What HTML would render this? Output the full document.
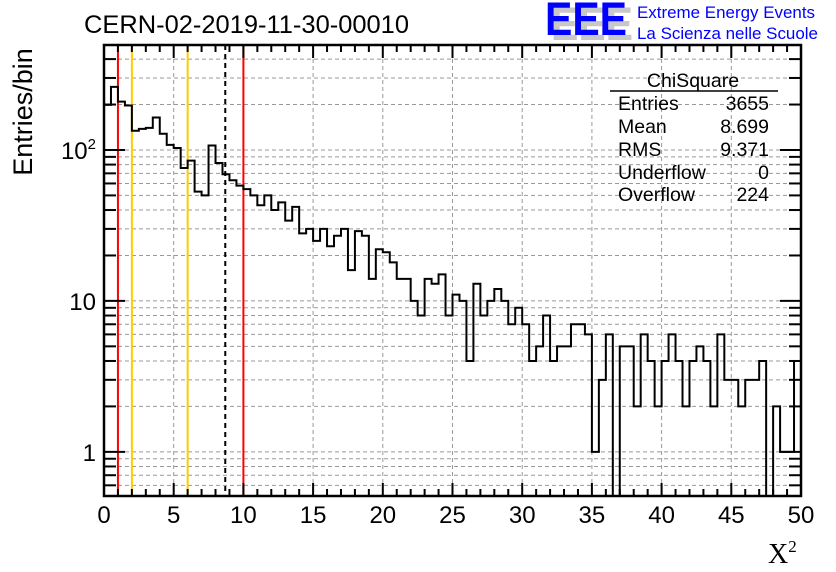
<!DOCTYPE html>
<html><head><meta charset="utf-8">
<style>
html,body{margin:0;padding:0;background:#fff;}
svg{display:block;font-family:"Liberation Sans",sans-serif;}
</style></head>
<body>
<svg id="chart" width="836" height="572" viewBox="0 0 836 572" xmlns="http://www.w3.org/2000/svg">
  <rect width="836" height="572" fill="#fff"/>
  <g id="grid"></g>
  <g id="refs"></g>
  <g id="hist"></g>
  <g id="axes"></g>
  <text x="84" y="33" font-size="25" textLength="325" lengthAdjust="spacingAndGlyphs">CERN-02-2019-11-30-00010</text>
  <text transform="translate(32,112) rotate(-90)" text-anchor="middle" font-size="27">Entries/bin</text>
  <text x="768" y="563" font-size="28" font-family="Liberation Serif, serif">X<tspan font-size="17" dy="-11">2</tspan></text>
  <g>
    <text x="551" y="40" font-size="47" font-weight="bold" fill="#c8c8c8" textLength="82" lengthAdjust="spacingAndGlyphs">EEE</text>
    <text x="545" y="35" font-size="47" font-weight="bold" fill="#0000ff" textLength="82" lengthAdjust="spacingAndGlyphs">EEE</text>
    <text x="637" y="18" font-size="17" fill="#0000ff" textLength="178" lengthAdjust="spacingAndGlyphs">Extreme Energy Events</text>
    <text x="637" y="39" font-size="17" fill="#0000ff" textLength="181" lengthAdjust="spacingAndGlyphs">La Scienza nelle Scuole</text>
  </g>
  <g font-size="19.5">
    <text x="693" y="87" text-anchor="middle">ChiSquare</text>
    <line x1="610" y1="91" x2="778" y2="91" stroke="#000" stroke-width="1.5"/>
    <text x="618" y="110">Entries</text><text x="769" y="110" text-anchor="end">3655</text>
    <text x="618" y="133">Mean</text><text x="769" y="133" text-anchor="end">8.699</text>
    <text x="618" y="156">RMS</text><text x="769" y="156" text-anchor="end">9.371</text>
    <text x="618" y="179">Underflow</text><text x="769" y="179" text-anchor="end">0</text>
    <text x="618" y="201">Overflow</text><text x="769" y="201" text-anchor="end">224</text>
  </g>
</svg>
<script>
const binWidth = 0.5;
const binCounts = [199,262,209,197,134,138,140,164,128,108,103,76,85,53,50,107,82,69,63,58,
  55,50,43,50,40,45,34,42,28,30,25,30,23,27,30,16,29,27,14,22,
  21,18,14,14,10,8,14,13,15,8,11,10,4,13,8,10,12,10,7,9,
  7,4,5,8,4,5,5,7,7,6,1,3,6,0,5,5,2,6,4,2,
  4,6,4,2,4,5,4,2,6,3,3,2,3,3,4,0,2,1,1,4];
const xTickLabels = ["0","5","10","15","20","25","30","35","40","45","50"];
const xTickValues = [0,5,10,15,20,25,30,35,40,45,50];
const yMajorValues = [1,10,100];
const refRed = [1,10];
const refOrange = [2,6];
const refMean = [8.699];

const NS="http://www.w3.org/2000/svg";
const L=104,R=801,T=45,B=496;
const xMin=0,xMax=50;
const yLogMin=Math.log10(0.5098),yLogMax=Math.log10(496);
function X(v){return L+(v-xMin)/(xMax-xMin)*(R-L);}
function Y(v){if(v<=0)return B+2;const y=B-(Math.log10(v)-yLogMin)/(yLogMax-yLogMin)*(B-T);return Math.min(y,B+2);}
function mk(tag,attrs,parent){const e=document.createElementNS(NS,tag);for(const k in attrs)e.setAttribute(k,attrs[k]);parent.appendChild(e);return e;}

const grid=document.getElementById('grid');
const axes=document.getElementById('axes');
const refs=document.getElementById('refs');
const hist=document.getElementById('hist');

const yTicks=[];
for(const d of [0.1,1,10,100]){for(let m=1;m<=9;m++){const v=m*d;if(v>=0.51&&v<=496)yTicks.push(v);}}
for(const v of yTicks){
  const y=Y(v);
  const g=mk('line',{x1:L,x2:R,y1:y,y2:y,stroke:'#999','stroke-dasharray':'4,3','stroke-width':1},grid);
  
  
  const major=yMajorValues.includes(v);
  const len=major?21:12;
  const t1=mk('line',{x1:L,x2:L+len,y1:y,y2:y,stroke:'#000','stroke-width':2},axes);
  
  
  const t2=mk('line',{x1:R,x2:R-len,y1:y,y2:y,stroke:'#000','stroke-width':2},axes);
  
  
}
for(let i=0;i<yMajorValues.length;i++){
  const v=yMajorValues[i];
  const tx=mk('text',{x:96,y:Y(v)+9,'text-anchor':'end','font-size':24},axes);
  
  
  if(v===100){tx.textContent='10';const s=mk('tspan',{'font-size':15,dy:-10},tx);s.textContent='2';}
  else tx.textContent=String(v);
}
for(let v=0;v<=50;v++){
  const x=X(v);
  const major=v%5===0;
  if(major&&v>0&&v<50){
    const g=mk('line',{x1:x,x2:x,y1:T,y2:B,stroke:'#999','stroke-dasharray':'4,3','stroke-width':1},grid);
    
    
  }
  const len=major?13:7;
  const t1=mk('line',{x1:x,x2:x,y1:B,y2:B-len,stroke:'#000','stroke-width':2},axes);
  
  
  const t2=mk('line',{x1:x,x2:x,y1:T,y2:T+len,stroke:'#000','stroke-width':2},axes);
  
  
}
for(let i=0;i<xTickValues.length;i++){
  const tx=mk('text',{x:X(xTickValues[i]),y:523,'text-anchor':'middle','font-size':24},axes);
  
  
  tx.textContent=xTickLabels[i];
}
const frame=mk('rect',{x:L,y:T,width:R-L,height:B-T,fill:'none',stroke:'#000','stroke-width':2.5},axes);



for(const v of refRed){
  const l=mk('line',{x1:X(v),x2:X(v),y1:T,y2:B,stroke:'#ff0000','stroke-width':2},refs);
  
  
}
for(const v of refOrange){
  const l=mk('line',{x1:X(v),x2:X(v),y1:T,y2:B,stroke:'#ffcc00','stroke-width':2},refs);
  
  
}
for(const v of refMean){
  const l=mk('line',{x1:X(v),x2:X(v),y1:T,y2:B,stroke:'#000','stroke-width':2,'stroke-dasharray':'5,4'},refs);
  
  
}

let d='M'+X(0)+','+Y(binCounts[0]);
for(let i=0;i<binCounts.length;i++){
  const y=Y(binCounts[i]);
  d+=' L'+X(i*binWidth)+','+y+' L'+X((i+1)*binWidth)+','+y;
}
const clip=mk('clipPath',{id:'pc'},hist);
mk('rect',{x:L,y:T,width:R-L,height:B-T},clip);
const p=mk('path',{d:d,fill:'none',stroke:'#000','stroke-width':2,'clip-path':'url(#pc)'},hist);


</script>
</body></html>
